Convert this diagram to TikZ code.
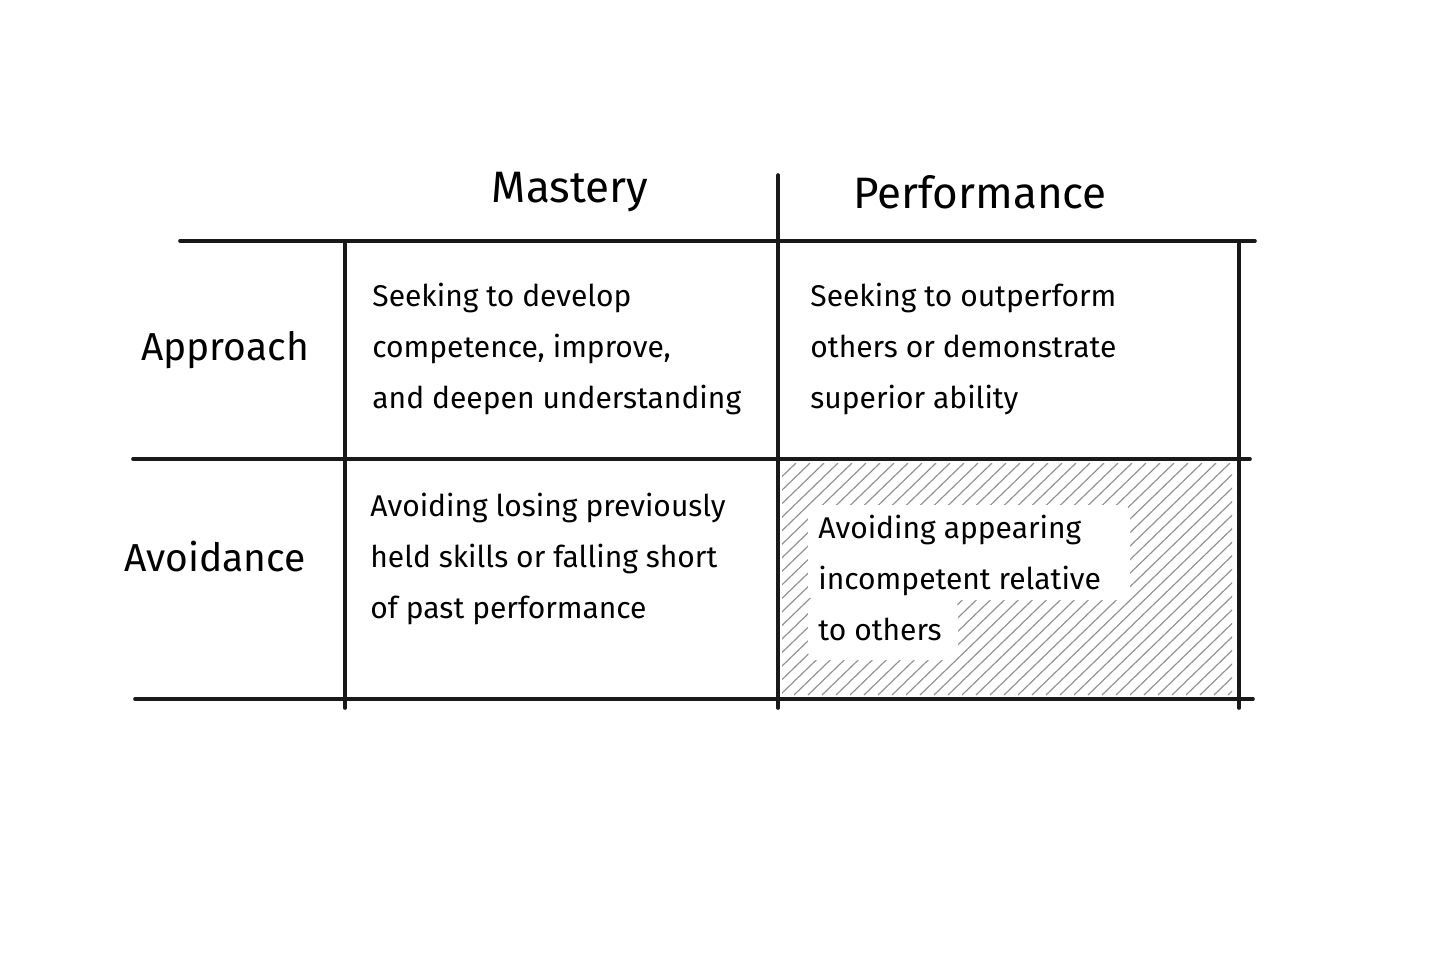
\documentclass[tikz,border=0pt]{standalone}
\usepackage{fontspec}
\setmainfont{Fira Sans}
\begin{document}
\begin{tikzpicture}[x=0.5pt,y=-0.5pt,
  grid/.style={line width=1.8pt,black!90,line cap=round},
  head/.style={font=\fontsize{22}{26}\selectfont,anchor=center},
  rowh/.style={font=\fontsize{19.5}{24}\selectfont,anchor=center},
  cell/.style={font=\fontsize{15}{25.5}\selectfont,align=left,anchor=north west,inner sep=0pt}]
\useasboundingbox (0,0) rectangle (1456,971);
% hatching
\begin{scope}
\clip (782,463) rectangle (1232,695);
\foreach \i in {0,14,...,720} {\draw[gray!85,line width=0.6pt] (782+\i-240,695) -- (782+\i,463);}
\end{scope}
\fill[white,rounded corners=4pt] (808,505) rectangle (1130,600);
\fill[white,rounded corners=4pt] (808,600) rectangle (958,660);
% grid
\coordinate (t1) at (180,241); \coordinate (t2) at (1255,241);
\coordinate (m1) at (133,459); \coordinate (m2) at (1250,459);
\coordinate (b1) at (135,699); \coordinate (b2) at (1253,699);
\coordinate (v1a) at (345,241); \coordinate (v1b) at (345,708);
\coordinate (v2a) at (778,175); \coordinate (v2b) at (778,708);
\coordinate (v3a) at (1239,241); \coordinate (v3b) at (1239,708);
\draw[grid] (t1)--(t2); \draw[grid] (m1)--(m2); \draw[grid] (b1)--(b2);
\draw[grid] (v1a)--(v1b); \draw[grid] (v2a)--(v2b); \draw[grid] (v3a)--(v3b);
% headers
\node[head] (hm) at (570,192) {Mastery};
\node[head] (hp) at (980,192) {Performance};
\node[rowh] (ra) at (225,350) {Approach};
\node[rowh] (rv) at (215,557) {Avoidance};
% cells
\node[cell] (c11) at (372,283) {Seeking to develop\\competence, improve,\\and deepen understanding};
\node[cell] (c12) at (810,283) {Seeking to outperform\\others or demonstrate\\superior ability};
\node[cell] (c21) at (370,493) {Avoiding losing previously\\held skills or falling short\\of past performance};
\node[cell] (c22) at (818,515) {Avoiding appearing\\incompetent relative\\to others};
\end{tikzpicture}
\end{document}
